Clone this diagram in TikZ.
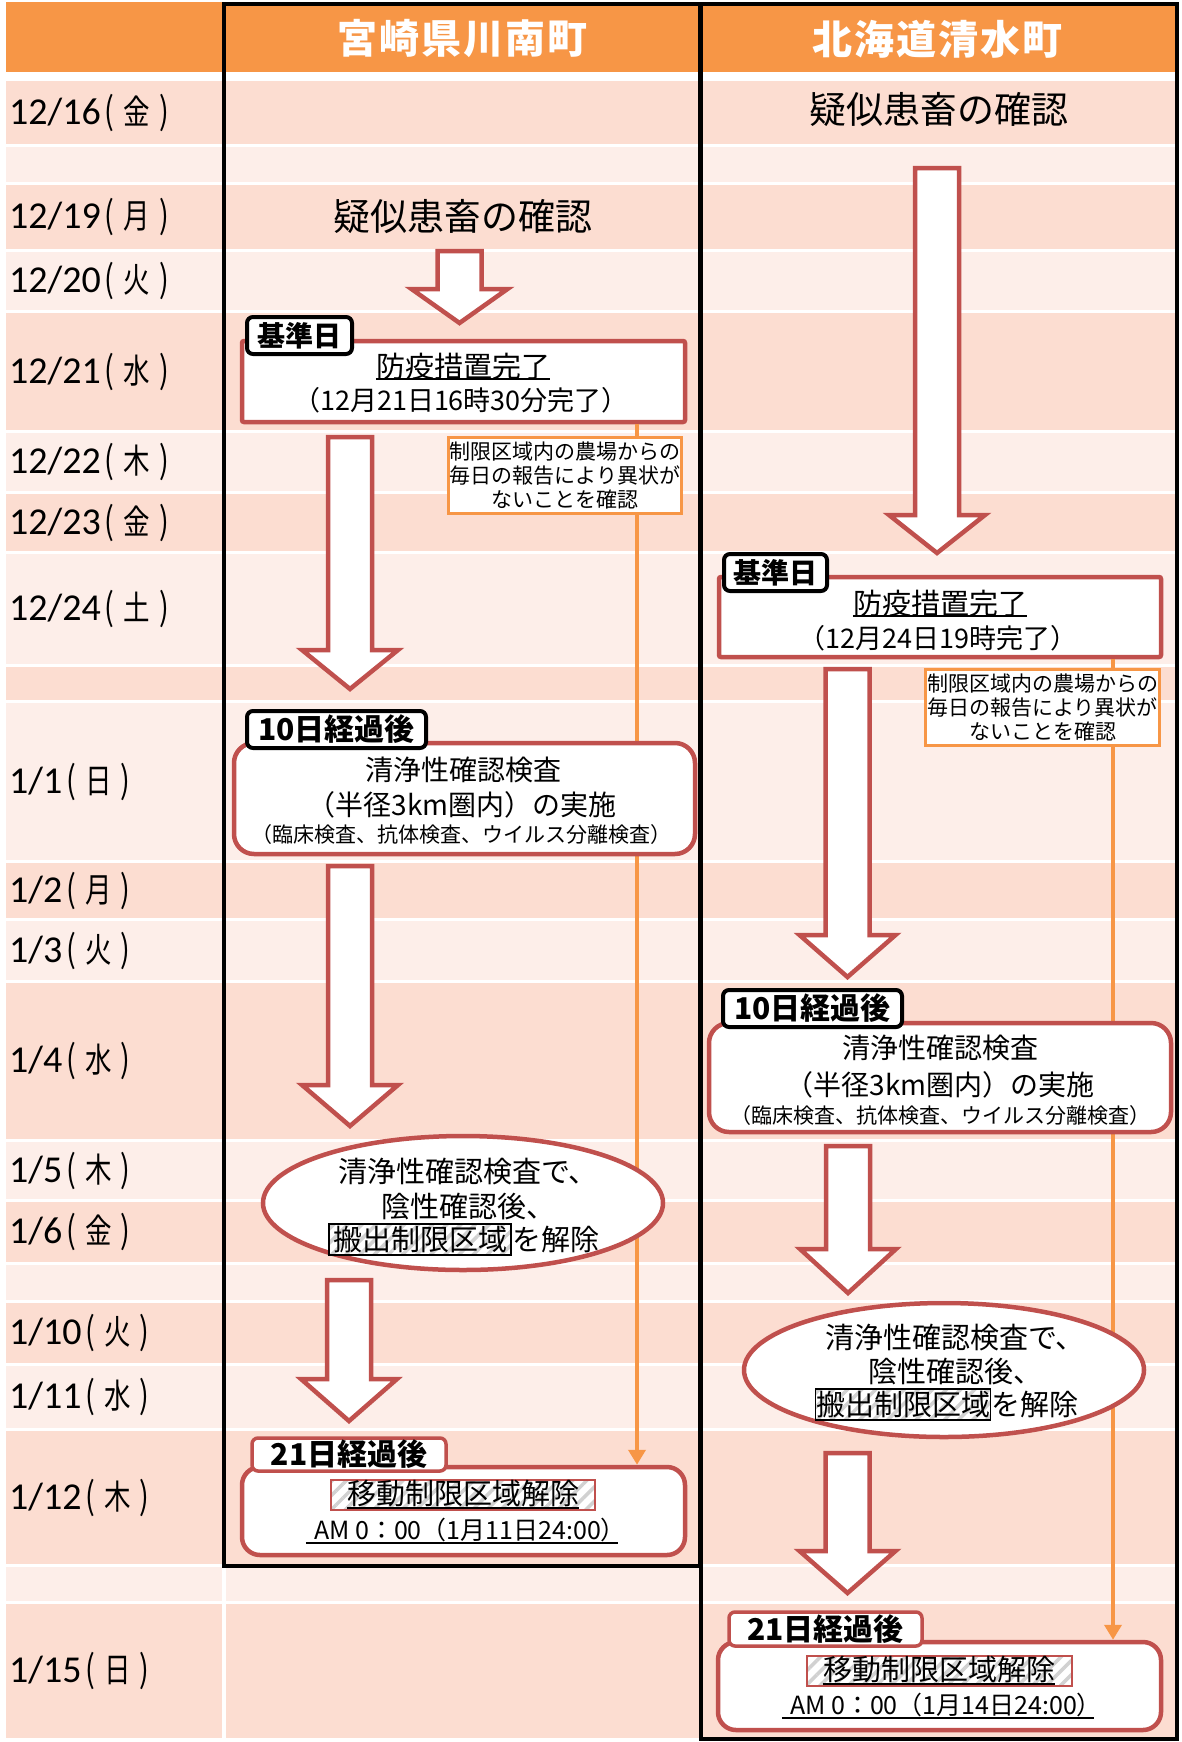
\documentclass[tikz,border=0pt]{standalone}
\usepackage{fontspec}
\setmainfont{Noto Sans CJK JP}
\newfontfamily\jpnarrow[FakeStretch=0.78]{Noto Sans CJK JP}
\newfontfamily\numfont{Carlito}
\usetikzlibrary{shapes.geometric,arrows.meta,patterns.meta}
\definecolor{hdr}{HTML}{F79646}
\definecolor{rowdark}{RGB}{252,221,209}
\definecolor{rowlight}{RGB}{253,238,233}
\definecolor{red2}{HTML}{C0504D}
\definecolor{org}{HTML}{F79646}
\newcommand\fsz[1]{\fontsize{#1}{#1}\selectfont}
\newcommand\dlab[2]{{\numfont\fsz{38}#1}{\jpnarrow\fsz{34}\hspace{4pt}{\fsz{37}(}\hspace{9pt}#2\hspace{9pt}{\fsz{37})}}}
\newcommand\blockarr[4]{\draw[blockarrow] ({#1-22},#2) -- ({#1+22},#2) -- ({#1+22},#3) -- ({#1+48},#3) -- (#1,#4) -- ({#1-48},#3) -- ({#1-22},#3) -- cycle;}
\tikzset{
 txt/.style={inner sep=0pt},
 blockarrow/.style={draw=red2, fill=white, line width=4.5pt, line join=miter},
 rbox/.style={draw=red2, fill=white, line width=4.5pt, inner sep=0pt},
 lab/.style={draw=black, fill=white, line width=4pt, rounded corners=6pt, inner sep=0pt, font=\bfseries\fsz{28}},
 labr/.style={draw=red2, fill=white, line width=3.5pt, rounded corners=6pt, inner sep=0pt, font=\bfseries\fsz{30}},
 note/.style={draw=org, fill=white, line width=3pt, inner sep=0pt, align=center, font=\fontsize{21}{24}\selectfont},
 hatch/.style={draw=#1, line width=1.2pt, preaction={fill=white}, pattern={Lines[angle=45,distance=10pt,line width=3.5pt]}, pattern color=black!18, inner sep=0pt},
 uline/.style={line width=1.5pt, draw=black},
 oline/.style={draw=org, line width=4pt, -{Triangle[width=17pt,length=15pt]}},
 frame/.style={draw=black, line width=4pt},
 hdrtxt/.style={text=white, inner sep=0pt, font=\bfseries\fsz{40}\addfontfeature{LetterSpace=5}},
 datelab/.style={anchor=west, inner sep=0pt},
}
\begin{document}
\begin{tikzpicture}[x=1pt,y=-1pt]
\useasboundingbox (0,0) rectangle (1181,1742);
\fill[white] (0,0) rectangle (1181,1742);
% header
\fill[hdr] (6,2) rectangle (222,72);
\fill[hdr] (226,2) rectangle (699,72);
\fill[hdr] (703,2) rectangle (1176,72);
\node[hdrtxt] (hL) at (462,39) {宮崎県川南町};
\node[hdrtxt] (hR) at (937,39) {北海道清水町};
% rows
\foreach \t/\b/\c in {81/144/rowdark,147/182/rowlight,185/249/rowdark,252/310/rowlight,313/430/rowdark,433/491/rowlight,494/551/rowdark,554/664/rowlight,667/700/rowdark,703/860/rowlight,863/918/rowdark,921/980/rowlight,983/1139/rowdark,1142/1199/rowlight,1202/1262/rowdark,1265/1300/rowlight,1303/1363/rowdark,1366/1428/rowlight,1431/1564/rowdark,1567/1601/rowlight,1604/1738/rowdark}{
  \fill[\c] (6,\t) rectangle (222,\b);
  \fill[\c] (226,\t) rectangle (699,\b);
  \fill[\c] (703,\t) rectangle (1176,\b);
}
% dates
\node[datelab] (d01) at (9,112.5) {\dlab{12/16}{金}};
\node[datelab] (d02) at (9,217) {\dlab{12/19}{月}};
\node[datelab] (d03) at (9,281) {\dlab{12/20}{火}};
\node[datelab] (d04) at (9,371.5) {\dlab{12/21}{水}};
\node[datelab] (d05) at (9,462) {\dlab{12/22}{木}};
\node[datelab] (d06) at (9,522.5) {\dlab{12/23}{金}};
\node[datelab] (d07) at (9,609) {\dlab{12/24}{土}};
\node[datelab] (d08) at (9,781.5) {\dlab{1/1}{日}};
\node[datelab] (d09) at (9,890.5) {\dlab{1/2}{月}};
\node[datelab] (d10) at (9,950.5) {\dlab{1/3}{火}};
\node[datelab] (d11) at (9,1061) {\dlab{1/4}{水}};
\node[datelab] (d12) at (9,1170.5) {\dlab{1/5}{木}};
\node[datelab] (d13) at (9,1232) {\dlab{1/6}{金}};
\node[datelab] (d14) at (9,1333) {\dlab{1/10}{火}};
\node[datelab] (d15) at (9,1397) {\dlab{1/11}{水}};
\node[datelab] (d16) at (9,1497.5) {\dlab{1/12}{木}};
\node[datelab] (d17) at (9,1671) {\dlab{1/15}{日}};

% ===== left column (Miyazaki) =====
\node[txt, font=\fsz{37}] (qL) at (463,217) {疑似患畜の確認};
\blockarr{459.5}{251}{289}{323}
\blockarr{350}{437}{650}{689}
\blockarr{350}{866}{1085}{1126}
\blockarr{349}{1280}{1379}{1421}
\node[rbox, rounded corners=2pt, minimum width=443pt, minimum height=81pt] (bougiL) at (463.5,381.5) {};
\node[rbox, rounded corners=18pt, minimum width=443pt, minimum height=88pt] (endL) at (463.5,1511) {};
\coordinate (xL) at (637,0);
\draw[oline] (bougiL.south -| xL) -- (endL.north -| xL);
\node[note, minimum width=233pt, minimum height=76pt] (noteL) at (565,475.5) {制限区域内の農場からの\\毎日の報告により異状が\\ないことを確認};
\node[lab, minimum width=105pt, minimum height=37pt] (kijunL) at (299.5,335.5) {基準日};
\node[txt, font=\fsz{29}] (bt1L) at (463,366) {防疫措置完了};
\draw[uline] ([yshift=-13pt]bt1L.west) -- ([yshift=-13pt]bt1L.east);
\node[txt, font=\fsz{27}] (bt2L) at (461,400) {（12月21日16時30分完了）};

\node[rbox, rounded corners=20pt, minimum width=461pt, minimum height=111pt] (kensaL) at (464.5,798.5) {};
\node[lab, font=\bfseries\fsz{30}, minimum width=179pt, minimum height=37pt] (tenL) at (336.5,729.5) {10日経過後};
\node[txt, font=\fsz{28}] (k1L) at (463,770) {清浄性確認検査};
\node[txt, font=\fsz{28}] (k2L) at (462,805) {（半径3km圏内）の実施};
\node[txt, font=\fsz{21}] (k3L) at (461,835) {（臨床検査、抗体検査、ウイルス分離検査）};

\node[ellipse, draw=red2, line width=4.5pt, fill=white, minimum width=400pt, minimum height=134pt, inner sep=0pt] (ellL) at (463,1203) {};
\node[txt, font=\fsz{29}] (e1L) at (468,1172) {清浄性確認検査で、};
\node[txt, font=\fsz{29}] (e2L) at (468,1206) {陰性確認後、};
\node[hatch=black, font=\fsz{29}, minimum width=182pt, minimum height=31pt] (hanL) at (420,1239.5) {搬出制限区域};
\node[txt, font=\fsz{29}, anchor=west] (kaiL) at (hanL.east) {を解除};

\node[labr, minimum width=194pt, minimum height=33pt] (twL) at (349,1454.5) {21日経過後};
\node[hatch=red2, minimum width=264pt, minimum height=30pt] (mvL) at (463,1495) {};
\node[txt, font=\fsz{29}] (mvtL) at (463,1494) {移動制限区域解除};
\draw[uline] ([yshift=-14pt]mvtL.west) -- ([yshift=-14pt]mvtL.east);
\node[txt, font=\fsz{25}] (amL) at (470,1530) {AM 0：00（1月11日24:00）};
\draw[uline] ([yshift=-13pt,xshift=-8pt]amL.west) -- ([yshift=-13pt,xshift=-8pt]amL.east);

% ===== right column (Hokkaido) =====
\node[txt, font=\fsz{37}] (qR) at (939,110) {疑似患畜の確認};
\blockarr{937}{168}{515}{553}
\blockarr{847.5}{669}{935}{977}
\blockarr{848}{1146}{1249}{1293}
\blockarr{847.5}{1453}{1551}{1593}
\node[rbox, rounded corners=2pt, minimum width=442pt, minimum height=80pt] (bougiR) at (940,617) {};
\node[rbox, rounded corners=18pt, minimum width=443pt, minimum height=88pt] (endR) at (939.5,1686) {};
\coordinate (xR) at (1113,0);
\draw[oline] (bougiR.south -| xR) -- (endR.north -| xR);
\node[note, minimum width=234pt, minimum height=76pt] (noteR) at (1042.5,707.5) {制限区域内の農場からの\\毎日の報告により異状が\\ないことを確認};
\node[lab, minimum width=103pt, minimum height=37pt] (kijunR) at (775.5,572.5) {基準日};
\node[txt, font=\fsz{29}] (bt1R) at (940,603) {防疫措置完了};
\draw[uline] ([yshift=-13pt]bt1R.west) -- ([yshift=-13pt]bt1R.east);
\node[txt, font=\fsz{27}] (bt2R) at (938,638) {（12月24日19時完了）};

\node[rbox, rounded corners=20pt, minimum width=462pt, minimum height=109pt] (kensaR) at (940,1077.5) {};
\node[lab, font=\bfseries\fsz{30}, minimum width=179pt, minimum height=37pt] (tenR) at (812.5,1008.5) {10日経過後};
\node[txt, font=\fsz{28}] (k1R) at (940,1048) {清浄性確認検査};
\node[txt, font=\fsz{28}] (k2R) at (940,1085) {（半径3km圏内）の実施};
\node[txt, font=\fsz{21}] (k3R) at (940,1116) {（臨床検査、抗体検査、ウイルス分離検査）};

\node[ellipse, draw=red2, line width=4.5pt, fill=white, minimum width=400pt, minimum height=134pt, inner sep=0pt] (ellR) at (944,1370) {};
\node[txt, font=\fsz{29}] (e1R) at (955,1338) {清浄性確認検査で、};
\node[txt, font=\fsz{29}] (e2R) at (955,1371) {陰性確認後、};
\node[hatch=black, font=\fsz{29}, minimum width=175pt, minimum height=31pt] (hanR) at (903,1404.5) {搬出制限区域};
\node[txt, font=\fsz{29}, anchor=west] (kaiR) at (hanR.east) {を解除};

\node[labr, minimum width=193pt, minimum height=34pt] (twR) at (825.5,1629) {21日経過後};
\node[hatch=red2, minimum width=265pt, minimum height=30pt] (mvR) at (939.5,1671) {};
\node[txt, font=\fsz{29}] (mvtR) at (939,1670) {移動制限区域解除};
\draw[uline] ([yshift=-14pt]mvtR.west) -- ([yshift=-14pt]mvtR.east);
\node[txt, font=\fsz{25}] (amR) at (946,1705) {AM 0：00（1月14日24:00）};
\draw[uline] ([yshift=-13pt,xshift=-8pt]amR.west) -- ([yshift=-13pt,xshift=-8pt]amR.east);

% frames
\draw[frame] (224,4) rectangle (700,1566);
\draw[frame] (701,4) rectangle (1177,1739);
\end{tikzpicture}
\end{document}
